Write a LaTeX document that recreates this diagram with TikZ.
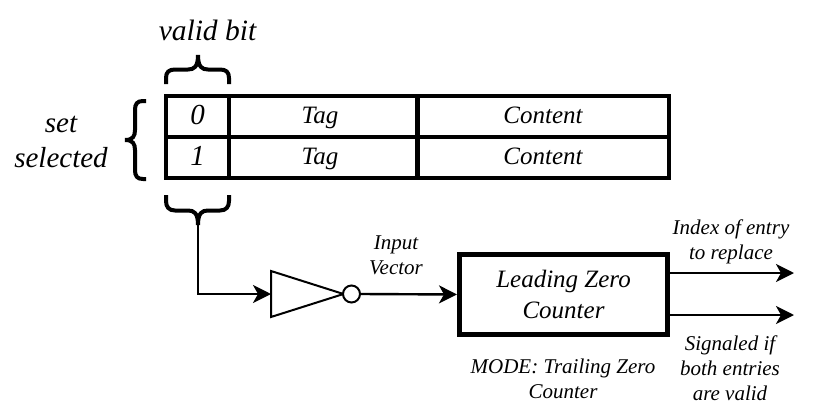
\documentclass[tikz,border=0pt]{standalone}
\usepackage{fontspec}
\setmainfont{Liberation Serif}
\usetikzlibrary{arrows.meta}
\tikzset{
  thickbox/.style={draw=black,line width=4pt,fill=white,inner sep=0pt,align=center},
  cellsmall/.style={thickbox,text height=17.5pt,text depth=3.5pt,font=\itshape\fontsize{25}{25}\selectfont},
  cellbig/.style={thickbox,minimum width=63pt,minimum height=41pt,text height=23pt,text depth=6.5pt,font=\itshape\fontsize{29}{29}\selectfont},
  wire/.style={draw=black,line width=2.4pt,-{Stealth[length=18pt,width=18pt,inset=5pt]}},
  bracestroke/.style={draw=black,line width=4pt,line cap=butt},
  lblbig/.style={inner sep=0pt,align=center,font=\itshape\fontsize{29}{35}\selectfont},
  lblsmall/.style={inner sep=0pt,align=center,font=\itshape\fontsize{21}{25}\selectfont},
}
\begin{document}
\begin{tikzpicture}[x=1pt,y=-1pt]
\useasboundingbox (0,0) rectangle (823,418);
% table cells
\node[cellbig] (v0) at (197.5,116.5) {0};
\node[cellbig] (v1) at (197.5,157.5) {1};
\node[cellsmall,minimum width=188pt,minimum height=41pt] (t0) at (323,116.5) {\kern-6pt Tag};
\node[cellsmall,minimum width=188pt,minimum height=41pt] (t1) at (323,157.5) {\kern-6pt Tag};
\node[cellsmall,minimum width=251pt,minimum height=41pt] (c0) at (543,116.5) {Content};
\node[cellsmall,minimum width=251pt,minimum height=41pt] (c1) at (543,157.5) {Content};
% braces
\draw[bracestroke] (166,84) -- (166,78) .. controls (166,72) and (169,69.5) .. (175,69.5) -- (188,69.5) .. controls (194,69.5) and (198,67) .. (198,55) .. controls (198,67) and (202,69.5) .. (208,69.5) -- (220,69.5) .. controls (226,69.5) and (229,72) .. (229,78) -- (229,84);
\draw[bracestroke] (166,195) -- (166,201) .. controls (166,207) and (169,210.5) .. (175,210.5) -- (188,210.5) .. controls (194,210.5) and (198,213) .. (198,225) .. controls (198,213) and (202,210.5) .. (208,210.5) -- (220,210.5) .. controls (226,210.5) and (229,207) .. (229,201) -- (229,195);
\draw[bracestroke] (146,101) -- (143,101) .. controls (137,101) and (135,104) .. (135,110) -- (135,130) .. controls (135,136) and (133,140) .. (125,140) .. controls (133,140) and (135,144) .. (135,150) -- (135,170) .. controls (135,176) and (137,179) .. (143,179) -- (146,179);
\coordinate (bt) at (198,222);
% inverter
\coordinate (ia) at (271,271);
\coordinate (ib) at (271,317);
\coordinate (ic) at (343.5,294);
\coordinate (iin) at (271,294);
\draw[black,line width=2pt,line join=miter,fill=white] (ia) -- (ic) -- (ib) -- cycle;
\node[draw=black,line width=2pt,fill=white,circle,minimum size=17pt,inner sep=0pt] (bub) at (351.5,294) {};
% counter
\node[thickbox,line width=5pt,minimum width=208pt,minimum height=80pt,font=\itshape\fontsize{25}{31}\selectfont] (lzc) at (563.5,294.5) {Leading Zero\\Counter};
% connectors
\draw[wire] (bt) |- (iin);
\draw[wire] (bub.east) -- (lzc.west);
\coordinate (o1) at (794,273);
\coordinate (o2) at (794,315);
\draw[wire] (lzc.east |- o1) -- (o1);
\draw[wire] (lzc.east |- o2) -- (o2);
% labels
\node[lblbig,font=\itshape\fontsize{29.5}{35}\selectfont] (lvalid) at (207.5,30) {valid bit};
\node[lblbig] (lset) at (61,141.5) {set\\selected};
\node[lblsmall] (lin) at (396,255.5) {Input\\Vector};
\node[lblsmall] (lidx) at (731,241.5) {Index of entry\\to replace};
\node[lblsmall] (lsig) at (730,368.5) {Signaled if\\both entries\\are valid};
\node[lblsmall] (lmode) at (563,378.5) {MODE: Trailing Zero\\Counter};
\end{tikzpicture}
\end{document}
